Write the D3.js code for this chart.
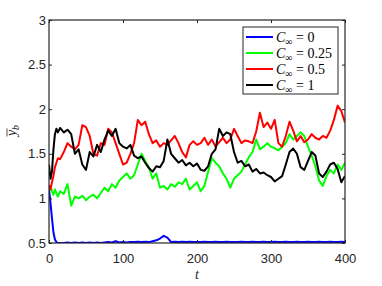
<!DOCTYPE html>
<html>
<head>
<meta charset="utf-8">
<script src="https://cdn.jsdelivr.net/npm/d3@7"></script>
<style>
  body { margin: 0; background: #fff; }
  svg { display: block; }
</style>
</head>
<body>
<div id="chart"></div>
<script>
// time samples (shared by all series)
var tVals = [0, 2, 4, 6, 8, 10, 12, 15, 20, 25, 30, 35, 40, 45, 50, 55, 60, 65, 70, 75, 80, 85, 90, 95,
  100, 105, 110, 115, 120, 125, 130, 135, 140, 145, 150, 155, 160, 165, 170, 175, 180, 185, 190, 195,
  200, 205, 210, 215, 220, 225, 230, 235, 240, 245, 250, 255, 260, 265, 270, 275, 280, 285, 290, 295,
  300, 305, 310, 315, 320, 325, 330, 335, 340, 345, 350, 355, 360, 365, 370, 375, 380, 385, 390, 395, 400];

var yC0 = [1.10, 0.95, 0.78, 0.62, 0.54, 0.51, 0.50, 0.50, 0.50, 0.505, 0.50, 0.505, 0.50, 0.505, 0.50, 0.505, 0.50, 0.505, 0.50, 0.505, 0.51, 0.505, 0.52, 0.505,
  0.51, 0.505, 0.51, 0.51, 0.515, 0.51, 0.515, 0.51, 0.52, 0.53, 0.55, 0.58, 0.56, 0.51, 0.515, 0.51, 0.515, 0.51, 0.515, 0.51,
  0.51, 0.51, 0.515, 0.51, 0.51, 0.515, 0.51, 0.51, 0.515, 0.51, 0.51, 0.51, 0.515, 0.51, 0.51, 0.515, 0.51, 0.51, 0.515, 0.51,
  0.51, 0.515, 0.51, 0.51, 0.515, 0.51, 0.51, 0.515, 0.51, 0.51, 0.515, 0.51, 0.51, 0.515, 0.51, 0.51, 0.515, 0.51, 0.51, 0.515, 0.51];

var yC025 = [1.10, 1.14, 1.08, 1.04, 1.10, 1.06, 1.02, 1.08, 1.05, 1.16, 0.92, 1.02, 1.00, 1.03, 0.98, 1.02, 1.04, 1.00, 1.06, 1.12, 1.08, 1.16, 1.12, 1.20,
  1.24, 1.28, 1.22, 1.26, 1.38, 1.50, 1.42, 1.35, 1.22, 1.28, 1.12, 1.14, 1.10, 1.16, 1.13, 1.18, 1.16, 1.22, 1.10, 1.14,
  1.18, 1.08, 1.14, 1.30, 1.45, 1.40, 1.36, 1.28, 1.22, 1.12, 1.22, 1.26, 1.30, 1.38, 1.46, 1.52, 1.66, 1.55, 1.58, 1.62,
  1.58, 1.56, 1.54, 1.58, 1.62, 1.72, 1.66, 1.70, 1.74, 1.70, 1.58, 1.48, 1.36, 1.20, 1.14, 1.25, 1.32, 1.28, 1.38, 1.32, 1.40];

var yC05 = [1.15, 1.10, 1.18, 1.25, 1.35, 1.40, 1.45, 1.44, 1.52, 1.62, 1.58, 1.55, 1.60, 1.82, 1.80, 1.70, 1.50, 1.48, 1.62, 1.60, 1.78, 1.74, 1.62, 1.50,
  1.38, 1.40, 1.50, 1.62, 1.88, 1.82, 1.86, 1.72, 1.62, 1.65, 1.58, 1.62, 1.60, 1.65, 1.70, 1.62, 1.52, 1.46, 1.60, 1.64,
  1.60, 1.62, 1.68, 1.60, 1.66, 1.58, 1.63, 1.68, 1.62, 1.66, 1.78, 1.70, 1.62, 1.65, 1.64, 1.62, 1.75, 1.96, 1.80, 1.85,
  1.78, 1.88, 1.62, 1.58, 1.70, 1.86, 1.76, 1.64, 1.70, 1.63, 1.66, 1.72, 1.68, 1.66, 1.70, 1.68, 1.76, 1.88, 2.04, 1.98, 1.85];

var yC1 = [1.38, 1.22, 1.30, 1.55, 1.72, 1.78, 1.74, 1.79, 1.74, 1.77, 1.72, 1.50, 1.55, 1.38, 1.32, 1.52, 1.47, 1.60, 1.52, 1.66, 1.76, 1.70, 1.78, 1.62,
  1.58, 1.56, 1.60, 1.48, 1.45, 1.47, 1.40, 1.34, 1.30, 1.36, 1.35, 1.42, 1.66, 1.50, 1.45, 1.40, 1.43, 1.37, 1.40, 1.36,
  1.39, 1.32, 1.31, 1.36, 1.50, 1.55, 1.78, 1.70, 1.74, 1.72, 1.52, 1.40, 1.42, 1.36, 1.38, 1.30, 1.33, 1.28, 1.29, 1.26,
  1.24, 1.19, 1.22, 1.25, 1.38, 1.52, 1.56, 1.50, 1.35, 1.32, 1.42, 1.52, 1.48, 1.28, 1.24, 1.30, 1.38, 1.40, 1.33, 1.18, 1.25];

var seriesNames = ["0", "0.25", "0.5", "1"];
var seriesColors = ["#0000ff", "#00ff00", "#ff0000", "#000000"];
var xTicks = [0, 100, 200, 300, 400];
var yTicks = [0.5, 1, 1.5, 2, 2.5, 3];

var W = 382, H = 286;
var m = {left: 49, right: 37, top: 20, bottom: 43};
var iw = W - m.left - m.right, ih = H - m.top - m.bottom;

var svg = d3.select("#chart").append("svg").attr("width", W).attr("height", H);
var g = svg.append("g").attr("transform", "translate(" + m.left + "," + m.top + ")");

var x = d3.scaleLinear().domain([0, 400]).range([0, iw]);
var y = d3.scaleLinear().domain([0.5, 3]).range([ih, 0]);

var axisColor = "#262626";
var tickFont = "'Liberation Sans', Arial, sans-serif";
var serif = "'Liberation Serif', 'DejaVu Serif', serif";

// series
var allSeries = [yC0, yC025, yC05, yC1];
var line = d3.line().x(function(d) { return x(d[0]); }).y(function(d) { return y(d[1]); });
g.append("defs").append("clipPath").attr("id", "clip")
  .append("rect").attr("width", iw).attr("height", ih);
allSeries.forEach(function(vals, i) {
  g.append("path")
    .datum(tVals.map(function(t, k) { return [t, vals[k]]; }))
    .attr("clip-path", "url(#clip)")
    .attr("fill", "none")
    .attr("stroke", seriesColors[i])
    .attr("stroke-width", 2)
    .attr("stroke-linejoin", "round")
    .attr("d", line);
});

// axes (ticks inward, box on)
var tl = -3;
var ax = [
  {a: d3.axisBottom(x).tickValues(xTicks).tickSize(tl).tickFormat(d3.format("d")), t: "translate(0," + ih + ")", bottom: true},
  {a: d3.axisTop(x).tickValues(xTicks).tickSize(tl).tickFormat(""), t: "translate(0,0)"},
  {a: d3.axisLeft(y).tickValues(yTicks).tickSize(tl).tickFormat(d3.format("")), t: "translate(0,0)"},
  {a: d3.axisRight(y).tickValues(yTicks).tickSize(tl).tickFormat(""), t: "translate(" + iw + ",0)"}
];
ax.forEach(function(o) {
  var s = g.append("g").attr("transform", o.t).call(o.a);
  s.select(".domain").remove();
  s.selectAll("line").attr("stroke", axisColor);
  s.selectAll("text").attr("fill", axisColor).style("font-family", tickFont).style("font-size", "13px");
  if (o.bottom) s.selectAll("text").attr("y", 11);
});

g.append("rect").attr("width", iw).attr("height", ih)
  .attr("fill", "none").attr("stroke", axisColor).attr("stroke-width", 1.2);

// axis labels
svg.append("text")
  .attr("x", m.left + iw / 2).attr("y", 279)
  .attr("text-anchor", "middle")
  .style("font-family", serif)
  .style("font-style", "italic").style("font-size", "14px").attr("fill", axisColor)
  .text("t");

var ylg = svg.append("g").attr("transform", "translate(16," + (m.top + ih / 2 - 1) + ") rotate(-90)");
var yl = ylg.append("text")
  .attr("text-anchor", "middle")
  .style("font-family", serif)
  .style("font-style", "italic").style("font-size", "14px").attr("fill", axisColor);
yl.append("tspan").text("y");
yl.append("tspan").attr("dy", 3).style("font-size", "10px").text("b");
ylg.append("line").attr("x1", -6).attr("x2", 2).attr("y1", -9).attr("y2", -9)
  .attr("stroke", axisColor).attr("stroke-width", 0.8);

// legend
var lg = svg.append("g").attr("transform", "translate(243,27)");
lg.append("rect").attr("width", 95).attr("height", 67)
  .attr("fill", "#fff").attr("stroke", axisColor).attr("stroke-width", 1);
seriesNames.forEach(function(n, i) {
  var cy = 10 + i * 16;
  lg.append("line").attr("x1", 3).attr("x2", 30).attr("y1", cy).attr("y2", cy)
    .attr("stroke", seriesColors[i]).attr("stroke-width", 2);
  var tx = lg.append("text").attr("x", 33).attr("y", cy + 5)
    .style("font-family", serif)
    .style("font-size", "14px").attr("fill", "#000");
  tx.append("tspan").style("font-style", "italic").text("C");
  tx.append("tspan").attr("dy", 3).style("font-size", "10px").text("\u221e");
  tx.append("tspan").attr("dy", -3).text(" = " + n);
});
</script>
</body>
</html>
